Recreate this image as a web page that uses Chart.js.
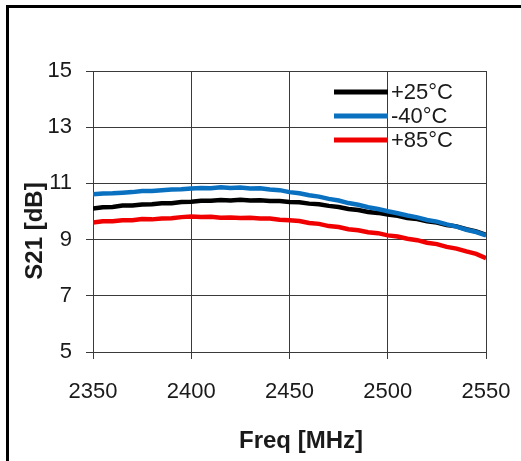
<!DOCTYPE html>
<html>
<head>
<meta charset="utf-8">
<script src="https://cdn.jsdelivr.net/npm/chart.js@4"></script>
<style>
  body { margin: 0; background: #fff; }
  .wrap { position: relative; width: 521px; height: 461px; overflow: hidden; }
  .frame { position: absolute; left: 6px; top: 5px; width: 700px; height: 700px;
           border-left: 3px solid #000; border-top: 3px solid #000; }
  #chart { position: absolute; left: 0; top: 0; }
</style>
</head>
<body>
<div class="wrap">
  <div class="frame"></div>
  <canvas id="chart" width="521" height="461"></canvas>
</div>
<script>
// frequency points (MHz)
var freqs = [2350, 2355, 2360, 2365, 2370, 2375, 2380, 2385, 2390, 2395,
  2400, 2405, 2410, 2415, 2420, 2425, 2430, 2435, 2440, 2445,
  2450, 2455, 2460, 2465, 2470, 2475, 2480, 2485, 2490, 2495,
  2500, 2505, 2510, 2515, 2520, 2525, 2530, 2535, 2540, 2545, 2550];

// S21 [dB] per temperature
var s21_25 = [10.11, 10.15, 10.16, 10.21, 10.21, 10.25, 10.26, 10.29, 10.29, 10.34,
  10.35, 10.38, 10.38, 10.41, 10.39, 10.42, 10.39, 10.40, 10.37, 10.37,
  10.34, 10.33, 10.28, 10.26, 10.20, 10.16, 10.09, 10.05, 9.98, 9.95,
  9.89, 9.85, 9.77, 9.73, 9.65, 9.61, 9.52, 9.47, 9.37, 9.29, 9.17];

var s21_m40 = [10.61, 10.64, 10.65, 10.67, 10.69, 10.73, 10.73, 10.76, 10.78, 10.79,
  10.82, 10.84, 10.83, 10.86, 10.84, 10.85, 10.82, 10.83, 10.78, 10.76,
  10.69, 10.65, 10.58, 10.53, 10.45, 10.39, 10.30, 10.24, 10.15, 10.09,
  10.01, 9.94, 9.86, 9.79, 9.70, 9.64, 9.54, 9.46, 9.35, 9.27, 9.15];

var s21_85 = [9.61, 9.65, 9.65, 9.69, 9.69, 9.73, 9.72, 9.75, 9.76, 9.80,
  9.82, 9.80, 9.81, 9.78, 9.79, 9.77, 9.78, 9.75, 9.75, 9.71,
  9.69, 9.66, 9.59, 9.56, 9.48, 9.45, 9.37, 9.33, 9.26, 9.23,
  9.15, 9.11, 9.03, 8.98, 8.89, 8.84, 8.74, 8.68, 8.58, 8.49, 8.34];

var seriesNames = ["+25\u00b0C", "-40\u00b0C", "+85\u00b0C"];
var xTitle = "Freq [MHz]";
var yTitle = "S21 [dB]";

function toPoints(vals) {
  return freqs.map(function (f, i) { return { x: f, y: vals[i] }; });
}

var FONT = "'Liberation Sans', Arial, sans-serif";

// legend drawn inside the plot, upper right
var insideLegend = {
  id: "insideLegend",
  afterDraw: function (chart) {
    var ctx = chart.ctx;
    var area = chart.chartArea;
    ctx.save();
    ctx.font = "22px " + FONT;
    ctx.textBaseline = "middle";
    ctx.fillStyle = "#1a1a1a";
    chart.data.datasets.forEach(function (ds, i) {
      var y = area.top + 21 + i * 24;
      var x1 = area.right - 98;
      ctx.strokeStyle = ds.borderColor;
      ctx.lineWidth = 5;
      ctx.beginPath();
      ctx.moveTo(x1 - 54, y);
      ctx.lineTo(x1, y);
      ctx.stroke();
      ctx.fillText(ds.label, x1 + 3, y + 1);
    });
    ctx.restore();
  }
};

// axis titles
var axisTitles = {
  id: "axisTitles",
  afterDraw: function (chart) {
    var ctx = chart.ctx;
    ctx.save();
    ctx.font = "bold 24px " + FONT;
    ctx.fillStyle = "#1a1a1a";
    ctx.textAlign = "center";
    ctx.textBaseline = "middle";
    ctx.fillText(xTitle, 301, 441);
    ctx.translate(35, 231);
    ctx.rotate(-Math.PI / 2);
    ctx.fillText(yTitle, 0, 0);
    ctx.restore();
  }
};

new Chart(document.getElementById("chart"), {
  type: "line",
  data: {
    datasets: [
      { label: seriesNames[0], data: toPoints(s21_25), borderColor: "#000000", order: 1 },
      { label: seriesNames[1], data: toPoints(s21_m40), borderColor: "#0a70c0", order: 0 },
      { label: seriesNames[2], data: toPoints(s21_85), borderColor: "#f00000", order: 2 }
    ]
  },
  options: {
    responsive: false,
    animation: false,
    events: [],
    layout: { padding: { left: 0, top: 71, right: 35, bottom: 0 } },
    elements: {
      point: { radius: 0 },
      line: { borderWidth: 4.5, tension: 0, fill: false }
    },
    plugins: {
      legend: { display: false },
      tooltip: { enabled: false }
    },
    scales: {
      x: {
        type: "linear",
        min: 2350,
        max: 2550,
        ticks: {
          stepSize: 50, color: "#1a1a1a", font: { family: FONT, size: 22 }, padding: 20,
          callback: function (v) { return String(v); }
        },
        grid: { color: "#3a3a3a", lineWidth: 1, tickLength: 7 },
        border: { color: "#3a3a3a" },
        afterFit: function (s) { s.height = 109; s.paddingLeft = 0; s.paddingRight = 0; }
      },
      y: {
        min: 5,
        max: 15,
        ticks: { stepSize: 2, color: "#1a1a1a", font: { family: FONT, size: 22 }, padding: 14 },
        grid: { color: "#3a3a3a", lineWidth: 1, tickLength: 7 },
        border: { color: "#3a3a3a" },
        afterFit: function (s) { s.width = 93; s.paddingTop = 0; s.paddingBottom = 0; }
      }
    }
  },
  plugins: [insideLegend, axisTitles]
});
</script>
</body>
</html>
